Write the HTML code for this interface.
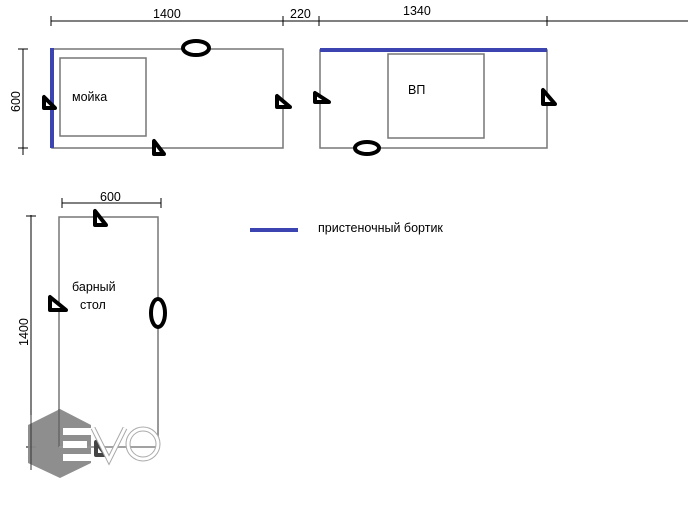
<!DOCTYPE html>
<html><head><meta charset="utf-8"><style>
html,body{margin:0;padding:0;background:#fff;}
svg{display:block;}
text{font-family:"Liberation Sans","DejaVu Sans",sans-serif;font-size:12.5px;fill:#000;}
</style></head><body>
<svg width="688" height="507" viewBox="0 0 688 507" xmlns="http://www.w3.org/2000/svg">
<g stroke="#000" stroke-width="1" fill="none">
<line x1="51" y1="21" x2="688" y2="21"/>
<line x1="51" y1="16" x2="51" y2="26"/><line x1="283" y1="16" x2="283" y2="26"/>
<line x1="319" y1="16" x2="319" y2="26"/><line x1="547" y1="16" x2="547" y2="26"/>
<line x1="23" y1="49" x2="23" y2="155"/><line x1="18" y1="49" x2="28" y2="49"/><line x1="18" y1="148" x2="28" y2="148"/>
<line x1="62" y1="203" x2="161" y2="203"/><line x1="62" y1="198" x2="62" y2="208"/><line x1="161" y1="198" x2="161" y2="208"/>
<line x1="31" y1="215" x2="31" y2="470"/><line x1="26" y1="216" x2="36" y2="216"/><line x1="26" y1="447" x2="36" y2="447"/>
</g>
<text x="153" y="18">1400</text><text x="290" y="18">220</text><text x="403" y="15">1340</text>
<text x="100" y="201">600</text>
<text transform="translate(20,112) rotate(-90)">600</text>
<text transform="translate(28,346) rotate(-90)">1400</text>
<g stroke="#777" stroke-width="1.5" fill="none">
<rect x="52" y="49" width="231" height="99"/>
<rect x="60" y="58" width="86" height="78"/>
<rect x="320" y="50" width="227" height="98"/>
<rect x="388" y="54" width="96" height="84"/>
<rect x="59" y="217" width="99" height="230"/>
</g>
<line x1="52" y1="48" x2="52" y2="148" stroke="#3b44b0" stroke-width="4"/>
<line x1="320" y1="50" x2="547" y2="50" stroke="#3b44b0" stroke-width="4"/>
<line x1="250" y1="230" x2="298" y2="230" stroke="#3b44b0" stroke-width="4"/>
<text x="72" y="101">мойка</text><text x="408" y="94">ВП</text>
<text x="318" y="232">пристеночный бортик</text>
<text x="72" y="291">барный</text><text x="80" y="309">стол</text>
<g stroke="#000" stroke-width="4" fill="#fff" stroke-linejoin="round">
<ellipse cx="196" cy="48" rx="13" ry="7"/>
<ellipse cx="367" cy="148" rx="12" ry="6"/>
<ellipse cx="158" cy="313" rx="7" ry="14"/>
<polygon points="44,97 44,108 55,108"/>
<polygon points="154,141 154,154 164,154"/>
<polygon points="277,96 277,107 290,107"/>
<polygon points="315,93 315,102 329,102"/>
<polygon points="543,90 543,104 555,104"/>
<polygon points="95,211 95,225 106,225"/>
<polygon points="50,297 50,310 66,310"/>
</g>
<polygon points="60,409 91,425 91,463 60,478 28,463 28,425" fill="#888" opacity="0.95"/>
<line x1="31" y1="415" x2="31" y2="470" stroke="#333" stroke-width="1"/>
<line x1="59" y1="409" x2="59" y2="447" stroke="#666" stroke-width="1.5"/>
<line x1="59" y1="447" x2="158" y2="447" stroke="#999" stroke-width="1.5"/>
<g fill="#fff">
<rect x="63" y="428" width="28" height="7"/><rect x="63" y="441" width="24" height="7"/><rect x="63" y="454" width="28" height="7"/>
</g>
<polygon points="96,442 96,455 106,455" fill="#fff" stroke="#444" stroke-width="4" stroke-linejoin="round"/>
<polyline points="93,428 109,460 125,428" fill="none" stroke="#aaa" stroke-width="5"/>
<polyline points="93,428 109,460 125,428" fill="none" stroke="#fff" stroke-width="3"/>
<circle cx="143" cy="444" r="15" fill="none" stroke="#aaa" stroke-width="5"/>
<circle cx="143" cy="444" r="15" fill="none" stroke="#fff" stroke-width="3"/>
</svg>
</body></html>
